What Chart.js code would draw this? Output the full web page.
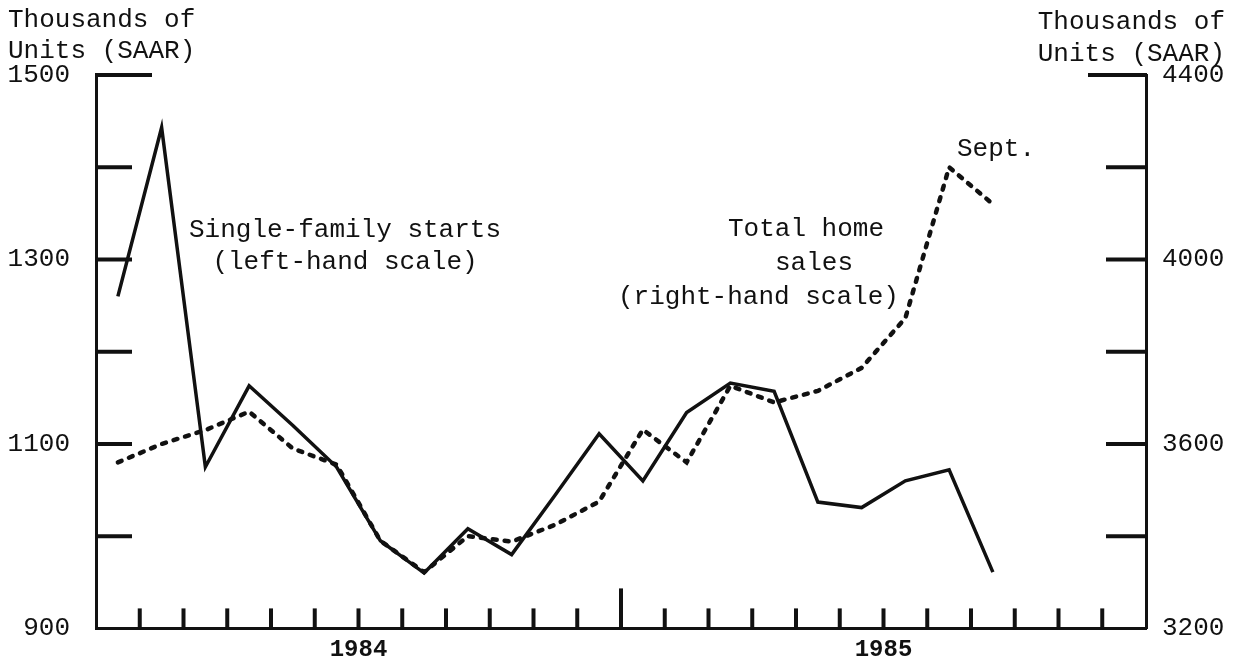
<!DOCTYPE html>
<html>
<head>
<meta charset="utf-8">
<script src="https://cdn.jsdelivr.net/npm/chart.js@4.4.1/dist/chart.umd.min.js"></script>
<style>
html,body{margin:0;padding:0;background:#fff;}
#wrap{width:1238px;height:670px;}
</style>
</head>
<body>
<div id="wrap"><canvas id="housing" width="1238" height="670"></canvas></div>
<script>
// Housing chart: single-family starts vs total home sales, monthly 1984-85

// categories
const months = ['Jan','Feb','Mar','Apr','May','Jun','Jul','Aug','Sep','Oct','Nov','Dec'];
const years = ['1984','1985'];

// single-family starts, thousands of units SAAR (left scale), Jan 84 - Sep 85
const starts = [1260,1443,1075,1163,1120,1075,995,960,1008,980,1045,1111,
                1060,1134,1166,1157,1037,1031,1060,1072,961];
// total home sales, thousands of units SAAR (right scale), Jan 84 - Sep 85
const sales = [3560,3600,3630,3670,3590,3555,3390,3322,3400,3388,3425,3475,
               3631,3560,3726,3690,3715,3765,3873,4200,4120];

// tick values
const leftTicks = [900,1000,1100,1200,1300,1400,1500];
const leftLabels = [900,1100,1300,1500];
const rightTicks = [3200,3400,3600,3800,4000,4200,4400];
const rightLabels = [3200,3600,4000,4400];

const FONT = "'Liberation Mono', 'DejaVu Sans Mono', monospace";
const INK = '#111';

// month index -> x value (center of month)
const toPoints = arr => arr.map((v,i)=>({x:i+0.5, y:v}));

// inward tick marks, unit captions and line notes
const decor = {
    id:'decor',
    afterDraw(c){
        const {ctx, chartArea:a, scales} = c;
        ctx.save();
        ctx.strokeStyle = INK;
        ctx.lineWidth = 4;
        const seg = (x1,y1,x2,y2)=>{ctx.beginPath();ctx.moveTo(x1,y1);ctx.lineTo(x2,y2);ctx.stroke();};
        // month ticks, longer one at the year break
        for(let m=1; m<months.length*years.length; m++){
            const px = scales.x.getPixelForValue(m);
            const len = (m % 12 === 0) ? 40 : 20;
            seg(px, a.bottom, px, a.bottom-len);
        }
        leftTicks.forEach(v=>{
            if(v===leftTicks[0]) return;
            const py = scales.y.getPixelForValue(v);
            seg(a.left-1, py, a.left + (v===1500?56:36), py);
        });
        rightTicks.forEach(v=>{
            if(v===rightTicks[0]) return;
            const py = scales.y1.getPixelForValue(v);
            seg(a.right+1, py, a.right - (v===4400?58:40), py);
        });

        ctx.fillStyle = INK;
        ctx.font = `26px ${FONT}`;
        ctx.textBaseline = 'middle';
        // unit captions
        ctx.textAlign = 'left';
        ctx.fillText('Thousands of', 8, 20);
        ctx.fillText('Units (SAAR)', 8, 51);
        ctx.textAlign = 'right';
        ctx.fillText('Thousands of', 1225, 22);
        ctx.fillText('Units (SAAR)', 1225, 54);
        // series notes
        ctx.textAlign = 'center';
        ctx.fillText('Single-family starts', 345, 230);
        ctx.fillText('(left-hand scale)', 345, 262);
        ctx.textAlign = 'left';
        ctx.fillText('Total home', 728, 229);
        ctx.fillText('sales', 775, 263);
        ctx.fillText('(right-hand scale)', 618, 297);
        ctx.fillText('Sept.', 957, 149);
        ctx.restore();
    }
};

const chart = new Chart(document.getElementById('housing').getContext('2d'), {
    type:'line',
    data:{
        datasets:[
            {label:'Single-family starts', data:toPoints(starts), yAxisID:'y',
             borderColor:INK, borderWidth:3.5, pointRadius:0, tension:0, borderJoinStyle:'miter'},
            {label:'Total home sales', data:toPoints(sales), yAxisID:'y1',
             borderColor:INK, borderWidth:4.5, borderDash:[4,8], borderCapStyle:'round',
             pointRadius:0, tension:0}
        ]
    },
    options:{
        responsive:false,
        animation:false,
        layout:{padding:{top:75, left:0, right:0, bottom:0}},
        plugins:{legend:{display:false}, tooltip:{enabled:false}},
        scales:{
            x:{
                type:'linear', min:0, max:24,
                afterFit(s){ s.height = 38; },
                grid:{display:false, drawTicks:false},
                border:{display:true, width:3, color:INK},
                ticks:{
                    stepSize:1, autoSkip:false, maxRotation:0, padding:7, color:INK,
                    font:{family:FONT, size:24, weight:'bold'},
                    callback:v => v===6 ? years[0] : (v===18 ? years[1] : '')
                }
            },
            y:{
                position:'left', min:900, max:1500,
                afterFit(s){ s.width = 96; },
                grid:{display:false, drawTicks:false},
                border:{display:true, width:3, color:INK},
                ticks:{
                    stepSize:100, padding:26, color:INK,
                    font:{family:FONT, size:26},
                    labelOffset:0,
                    callback:v => leftLabels.includes(v) ? String(v) : ''
                }
            },
            y1:{
                position:'right', min:3200, max:4400,
                afterFit(s){ s.width = 92; },
                grid:{display:false, drawTicks:false},
                border:{display:true, width:3, color:INK},
                ticks:{
                    stepSize:200, padding:16, color:INK,
                    font:{family:FONT, size:26},
                    callback:v => rightLabels.includes(v) ? String(v) : ''
                }
            }
        }
    },
    plugins:[decor]
});
</script>
</body>
</html>
